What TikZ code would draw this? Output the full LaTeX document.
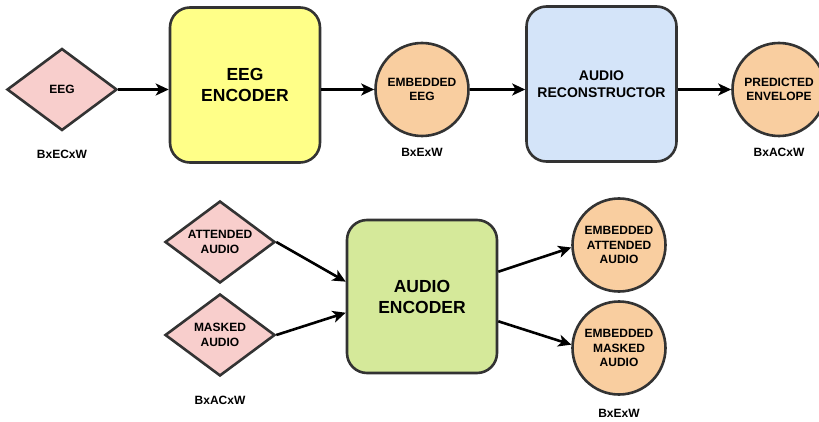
\documentclass[tikz,border=0pt]{standalone}
\usepackage{fontspec}
\setmainfont{Liberation Sans}
\usetikzlibrary{shapes.geometric,arrows.meta}

\definecolor{inpink}{HTML}{F8CECC}
\definecolor{encyellow}{HTML}{FFFF88}
\definecolor{recblue}{HTML}{D4E4F9}
\definecolor{embpeach}{HTML}{F9CEA0}
\definecolor{encgreen}{HTML}{D5E99A}
\definecolor{edgegray}{HTML}{333333}

\tikzset{
    txt/.style={font=\bfseries\fontsize{12}{14.5}\selectfont, align=center},
    inputdia/.style={txt, diamond, draw=edgegray, line width=2.6pt, fill=inpink,
        minimum width=110pt, minimum height=82pt, inner sep=0pt, aspect=1.34},
    block/.style={rectangle, rounded corners=20pt, draw=edgegray, line width=2.6pt,
        minimum width=150pt, minimum height=155pt, align=center,
        font=\bfseries\fontsize{17.5}{21}\selectfont},
    embcirc/.style={txt, circle, draw=edgegray, line width=2.6pt, fill=embpeach,
        minimum size=93pt, inner sep=0pt},
    shapelabel/.style={txt},
    flow/.style={line width=2.6pt, -{Stealth[length=13pt,width=12pt,inset=3.5pt]}}
}

\begin{document}
\begin{tikzpicture}[x=1pt,y=-1pt]
    \useasboundingbox (0,0) rectangle (819,422);

    % upper row
    \node[inputdia] (eeg) at (62,89.5) {EEG};
    \node[shapelabel] (eegdim) at (62,154) {BxECxW};
    \node[block, fill=encyellow] (eegenc) at (245,85) {EEG\\ENCODER};
    \node[embcirc] (embeeg) at (422,89.5) {EMBEDDED\\EEG};
    \node[shapelabel] (embeegdim) at (422,152) {BxExW};
    \node[block, fill=recblue, font=\bfseries\fontsize{14}{17.5}\selectfont]
        (audrec) at (601.5,84) {AUDIO\\RECONSTRUCTOR};
    \node[embcirc] (predenv) at (779,89.5) {PREDICTED\\ENVELOPE};
    \node[shapelabel] (predenvdim) at (779,152) {BxACxW};

    \draw[flow] (eeg.east) -- (eeg.east -| eegenc.west);
    \draw[flow] (embeeg.west -| eegenc.east) -- (embeeg.west);
    \draw[flow] (embeeg.east) -- (embeeg.east -| audrec.west);
    \draw[flow] (predenv.west -| audrec.east) -- (predenv.west);

    % lower row
    \node[inputdia] (attaud) at (220,242) {ATTENDED\\AUDIO};
    \node[inputdia] (maskaud) at (220,335) {MASKED\\AUDIO};
    \node[shapelabel] (auddim) at (220,400) {BxACxW};
    \node[block, fill=encgreen, minimum height=153pt] (audenc) at (422,296.5) {AUDIO\\ENCODER};
    \node[embcirc] (embatt) at (619,245) {EMBEDDED\\ATTENDED\\AUDIO};
    \node[embcirc] (embmask) at (619,348) {EMBEDDED\\MASKED\\AUDIO};
    \node[shapelabel] (embauddim) at (619,413) {BxExW};

    \draw[flow] (attaud.east) -- (audenc.169);
    \draw[flow] (maskaud.east) -- (audenc.192);
    \draw[flow] (audenc.18) -- (embatt.183);
    \draw[flow] (audenc.342) -- (embmask.176);
\end{tikzpicture}
\end{document}
